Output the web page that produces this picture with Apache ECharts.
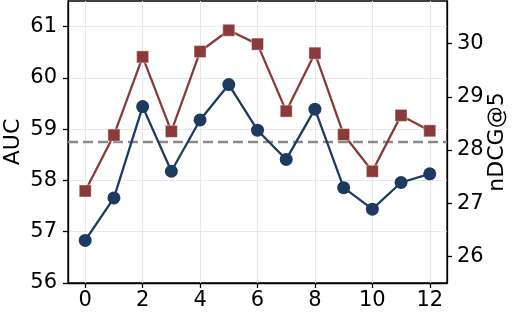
<!DOCTYPE html>
<html><head><meta charset="utf-8">
<script src="https://cdn.jsdelivr.net/npm/echarts@6/dist/echarts.min.js"></script>
<style>html,body{margin:0;padding:0;background:#fff}#c{width:516px;height:316px}</style>
</head><body><div id="c"></div>
<script>
const xValues = [0,1,2,3,4,5,6,7,8,9,10,11,12];
const aucValues = [56.83,57.66,59.44,58.18,59.18,59.87,58.98,58.41,59.39,57.86,57.44,57.96,58.13];
const ndcgValues = [27.23,28.28,29.75,28.35,29.85,30.25,29.99,28.73,29.82,28.29,27.60,28.65,28.36];
const baselineAUC = 58.75;
const xTicks = [0,2,4,6,8,10,12];
const aucTicks = [56,57,58,59,60,61];
const ndcgTicks = [26,27,28,29,30];

const font = 'DejaVu Sans';
const chart = echarts.init(document.getElementById('c'));
const gridLines = xTicks.map(v=>({xAxis:v,lineStyle:{color:'#e8e8e8',type:'solid',width:1}}));
chart.setOption({
  animation:false,
  grid:{left:68,right:69,top:1,bottom:33,containLabel:false,outerBoundsMode:'none',
        show:true,borderColor:'#000',borderWidth:1.3,backgroundColor:'transparent'},
  xAxis:{type:'value',min:-0.6,max:12.6,
    axisLine:{onZero:false,lineStyle:{color:'#000',width:1.3}},
    axisTick:{show:true,inside:false,length:5,lineStyle:{color:'#000',width:1.3},customValues:xTicks},
    axisLabel:{customValues:xTicks,color:'#000',fontFamily:font,fontSize:21,margin:7},
    splitLine:{show:false}},
  yAxis:[
    {type:'value',min:56,max:61.5,interval:1,position:'left',name:'AUC',nameLocation:'middle',nameGap:44,
     nameMoveOverlap:false,
     nameTextStyle:{color:'#000',fontFamily:font,fontSize:22},
     axisLine:{show:true,onZero:false,lineStyle:{color:'#000',width:1.3}},
     axisTick:{show:true,inside:false,length:5,lineStyle:{color:'#000',width:1.3},customValues:aucTicks},
     axisLabel:{customValues:aucTicks,color:'#000',fontFamily:font,fontSize:21,margin:11},
     splitLine:{show:true,lineStyle:{color:'#e8e8e8',width:1}}},
    {type:'value',min:25.5,max:30.8,position:'right',name:'nDCG@5',nameLocation:'middle',nameGap:39,
     nameMoveOverlap:false,
     nameTextStyle:{color:'#000',fontFamily:font,fontSize:22},
     axisLine:{show:true,onZero:false,lineStyle:{color:'#000',width:1.3}},
     axisTick:{show:true,inside:false,length:5,lineStyle:{color:'#000',width:1.3},customValues:ndcgTicks},
     axisLabel:{customValues:ndcgTicks,color:'#000',fontFamily:font,fontSize:21,margin:10},
     splitLine:{show:false}}
  ],
  series:[
    {type:'line',yAxisIndex:0,data:xValues.map((x,i)=>[x,aucValues[i]]),
     symbol:'circle',symbolSize:13,lineStyle:{color:'#1f3a60',width:2.3},
     itemStyle:{color:'#1f3a60'},z:3,
     markLine:{silent:true,symbol:'none',label:{show:false},z:1,
       lineStyle:{color:'#8a8a8a',type:[10,5],width:2.4},
       data:gridLines.concat([{yAxis:baselineAUC,lineStyle:{color:'#8a8a8a',type:[10,5],width:2.4}}])}},
    {type:'line',yAxisIndex:1,data:xValues.map((x,i)=>[x,ndcgValues[i]]),
     symbol:'rect',symbolSize:12,lineStyle:{color:'#8b3a3a',width:2.3},
     itemStyle:{color:'#8b3a3a',borderColor:'rgba(255,255,255,0.4)',borderWidth:1},z:3}
  ]
});
</script></body></html>
